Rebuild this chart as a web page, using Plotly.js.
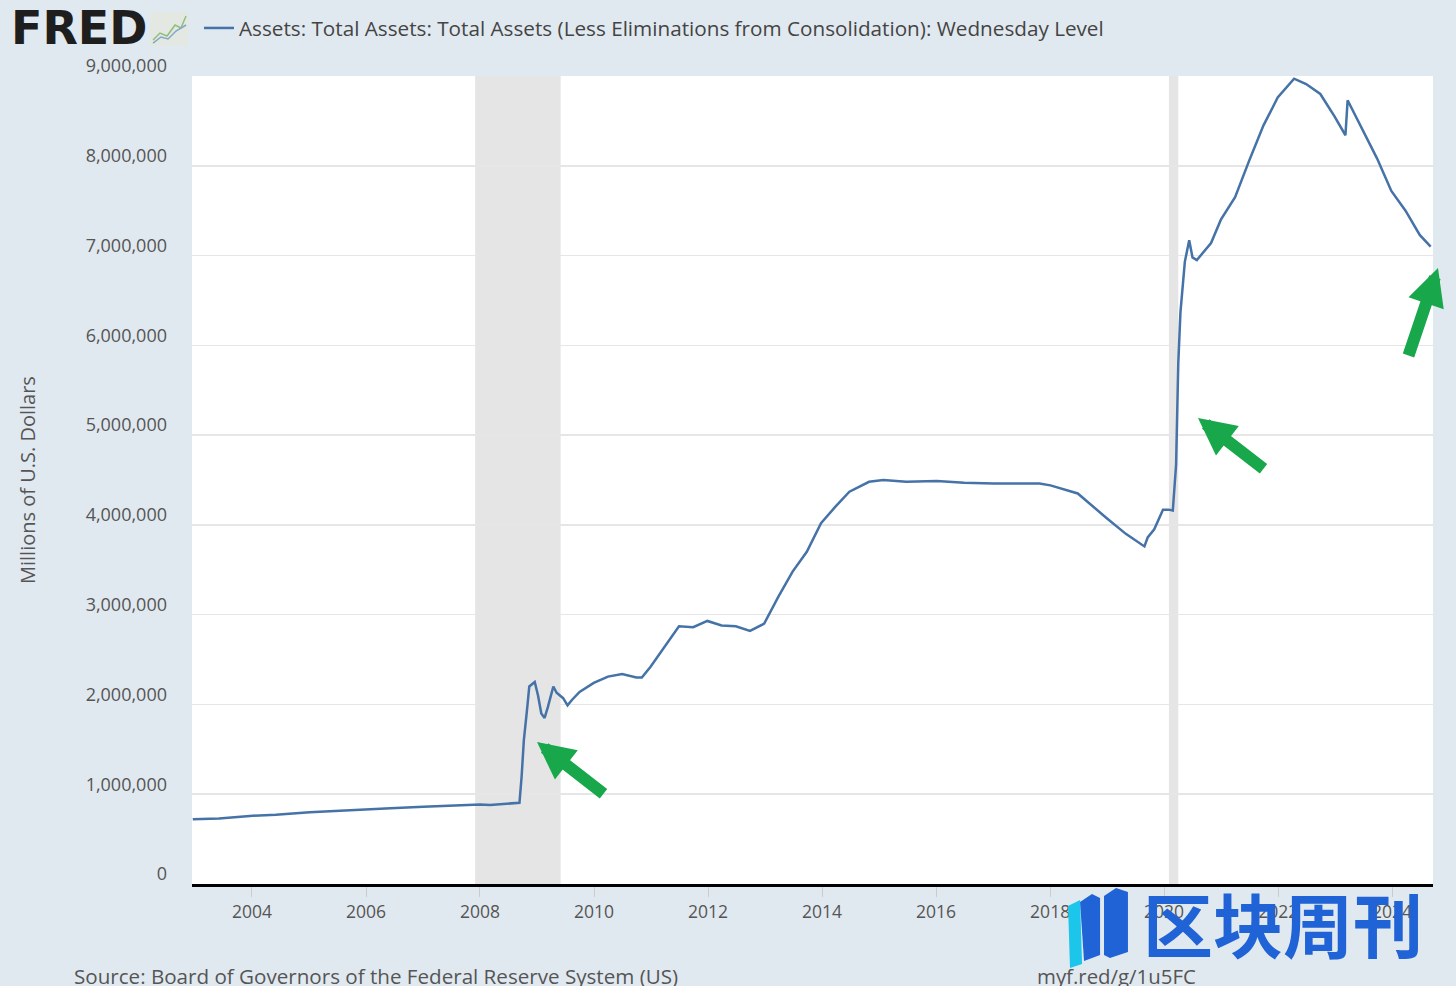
<!DOCTYPE html>
<html>
<head>
<meta charset="utf-8">
<script src="https://cdn.plot.ly/plotly-3.0.1.min.js"></script>
<style>
  html, body { margin: 0; padding: 0; background: #e1e9f0; }
  #chart { width: 1456px; height: 986px; }
</style>
</head>
<body>
<div id="chart"></div>
<script>
// Weekly level of total assets (millions of U.S. dollars)
const dates = [
  '2002-12-18','2003-06-04','2004-01-07','2004-06-02','2005-01-05','2005-06-01','2006-01-04','2006-06-07',
  '2007-01-03','2007-06-06','2008-01-02','2008-03-05','2008-06-04','2008-09-10','2008-09-24','2008-10-08',
  '2008-10-29','2008-11-12','2008-12-17','2009-01-07','2009-01-28','2009-02-18','2009-03-11','2009-04-15',
  '2009-05-06','2009-06-17','2009-07-15','2009-08-12','2009-09-30','2009-12-30','2010-03-31','2010-06-30',
  '2010-09-29','2010-11-03','2010-12-29','2011-03-30','2011-06-29','2011-09-28','2011-12-28','2012-03-28',
  '2012-06-27','2012-09-26','2012-12-26','2013-03-27','2013-06-26','2013-09-25','2013-12-25','2014-03-26',
  '2014-06-25','2014-10-29','2015-01-28','2015-06-24','2016-01-06','2016-06-29','2017-01-04','2017-06-28',
  '2017-10-25','2018-01-03','2018-06-27','2018-12-26','2019-05-01','2019-08-28','2019-09-18','2019-10-30',
  '2019-12-25','2020-01-29','2020-02-26','2020-03-18','2020-03-25','2020-04-01','2020-04-15','2020-05-13',
  '2020-06-10','2020-07-01','2020-07-29','2020-10-28','2020-12-30','2021-03-31','2021-06-30','2021-09-29',
  '2021-12-29','2022-03-30','2022-04-13','2022-06-29','2022-09-28','2022-12-28','2023-03-08','2023-03-22',
  '2023-06-28','2023-09-27','2023-12-27','2024-03-27','2024-06-26','2024-09-04'
];
const totalAssets = [
  720000, 730000, 760000, 772000, 800000, 815000, 830000, 845000,
  860000, 870000, 885000, 880000, 895000, 905000, 1200000, 1600000,
  1950000, 2200000, 2250000, 2100000, 1900000, 1850000, 1970000, 2200000,
  2130000, 2070000, 1990000, 2050000, 2140000, 2240000, 2310000, 2340000,
  2300000, 2300000, 2420000, 2650000, 2870000, 2860000, 2930000, 2880000,
  2870000, 2820000, 2900000, 3200000, 3480000, 3700000, 4020000, 4200000,
  4370000, 4480000, 4500000, 4480000, 4490000, 4470000, 4460000, 4460000,
  4460000, 4440000, 4350000, 4080000, 3900000, 3760000, 3860000, 3950000,
  4170000, 4170000, 4160000, 4670000, 5300000, 5800000, 6370000, 6930000,
  7170000, 6980000, 6950000, 7140000, 7400000, 7650000, 8060000, 8450000,
  8760000, 8940000, 8970000, 8910000, 8800000, 8550000, 8340000, 8730000,
  8390000, 8080000, 7720000, 7500000, 7230000, 7100000
];

// NBER recessions shaded on the chart
const recessionStarts = ['2007-12-01', '2020-02-01'];
const recessionEnds = ['2009-06-01', '2020-04-01'];

const yTicks = [0, 1000000, 2000000, 3000000, 4000000, 5000000, 6000000, 7000000, 8000000, 9000000];

const seriesName = 'Assets: Total Assets: Total Assets (Less Eliminations from Consolidation): Wednesday Level';

// plot area in page pixels, used to place the decorations
const PL = 192, PR = 1433, PT = 76, PB = 884;
const px = x => (x - PL) / (PR - PL);
const py = y => (PB - y) / (PB - PT);
const path = pts => pts.map((p, i) => (i ? 'L' : 'M') + px(p[0]).toFixed(4) + ',' + py(p[1]).toFixed(4)).join(' ') + ' Z';
const line = pts => pts.map((p, i) => (i ? 'L' : 'M') + px(p[0]).toFixed(4) + ',' + py(p[1]).toFixed(4)).join(' ');

const font = '"Open Sans", "DejaVu Sans", sans-serif';

// recession bands
const shapes = recessionStarts.map((s, i) => ({
  type: 'rect', xref: 'x', yref: 'paper', x0: s, x1: recessionEnds[i], y0: 0, y1: 1,
  fillcolor: '#e5e5e5', line: { width: 0 }, layer: 'below'
}));

// little FRED chart icon
shapes.push({ type: 'rect', xref: 'paper', yref: 'paper', x0: px(150), x1: px(188), y0: py(46), y1: py(12),
  fillcolor: '#e3e9e2', line: { width: 0 } });
shapes.push({ type: 'path', xref: 'paper', yref: 'paper', path: line([[153, 40], [160, 33], [167, 36], [175, 25], [181, 28], [186, 16]]),
  line: { color: '#8fbf7a', width: 1.5 } });
shapes.push({ type: 'path', xref: 'paper', yref: 'paper', path: line([[153, 43], [161, 37], [168, 39], [176, 31], [186, 25]]),
  line: { color: '#86a6c6', width: 1.5 } });

// watermark logo bars
shapes.push({ type: 'path', xref: 'paper', yref: 'paper', path: path([[1068, 906], [1080, 900], [1082, 964], [1070, 968]]),
  fillcolor: '#1cc5ea', line: { width: 0 } });
shapes.push({ type: 'path', xref: 'paper', yref: 'paper', path: path([[1080, 902], [1092, 894], [1100, 898], [1100, 955], [1084, 961]]),
  fillcolor: '#1f63d6', line: { width: 0 } });
shapes.push({ type: 'path', xref: 'paper', yref: 'paper', path: path([[1104, 896], [1116, 888], [1128, 892], [1128, 952], [1110, 958], [1104, 955]]),
  fillcolor: '#1f63d6', line: { width: 0 } });

const arrowGreen = '#18a84b';
const annotations = [
  { xref: 'paper', yref: 'paper', x: px(9), y: py(28), xanchor: 'left', yanchor: 'middle', showarrow: false,
    text: '<b>FRED</b>', font: { family: '"DejaVu Sans", sans-serif', size: 46, color: '#1e1e1e' } },
  { xref: 'paper', yref: 'paper', x: px(27), y: 0.5, xanchor: 'center', yanchor: 'middle', showarrow: false,
    textangle: -90, text: 'Millions of U.S. Dollars', font: { family: font, size: 20, color: '#555' } },
  { xref: 'paper', yref: 'paper', x: px(72), y: py(976), xanchor: 'left', yanchor: 'middle', showarrow: false,
    text: 'Source: Board of Governors of the Federal Reserve System (US)', font: { family: font, size: 20.6, color: '#555' } },
  { xref: 'paper', yref: 'paper', x: px(1035), y: py(976), xanchor: 'left', yanchor: 'middle', showarrow: false,
    text: 'myf.red/g/1u5FC', font: { family: font, size: 20.4, color: '#555' } },
  // green arrows
  { xref: 'paper', yref: 'paper', x: px(537), y: py(742), ax: 68, ay: 53, text: '', showarrow: true,
    arrowhead: 2, arrowsize: 0.62, arrowwidth: 12, arrowcolor: arrowGreen },
  { xref: 'paper', yref: 'paper', x: px(1198), y: py(418), ax: 67, ay: 52, text: '', showarrow: true,
    arrowhead: 2, arrowsize: 0.62, arrowwidth: 12, arrowcolor: arrowGreen },
  { xref: 'paper', yref: 'paper', x: px(1438), y: py(268), ax: -30, ay: 89, text: '', showarrow: true,
    arrowhead: 2, arrowsize: 0.62, arrowwidth: 12, arrowcolor: arrowGreen },
  // watermark text
  { xref: 'paper', yref: 'paper', x: px(1283), y: py(922), xanchor: 'center', yanchor: 'middle', showarrow: false,
    text: '<b>区块周刊</b>', font: { family: '"Noto Sans CJK SC", sans-serif', size: 70, color: '#1f63d6' } }
];

Plotly.newPlot('chart', [{
  x: dates,
  y: totalAssets,
  name: seriesName,
  type: 'scatter',
  mode: 'lines',
  line: { color: '#4572a7', width: 2.5 }
}], {
  width: 1456,
  height: 986,
  paper_bgcolor: '#e1e9f0',
  plot_bgcolor: '#ffffff',
  margin: { l: PL, r: 1456 - PR, t: PT, b: 986 - PB },
  showlegend: true,
  legend: {
    xref: 'container', yref: 'container', x: 199 / 1456, y: 1 - 8 / 986,
    xanchor: 'left', yanchor: 'top', orientation: 'h', bgcolor: 'rgba(0,0,0,0)',
    font: { family: font, size: 20.7, color: '#444' }
  },
  xaxis: {
    type: 'date',
    range: ['2002-12-13', '2024-09-19'],
    tick0: '2004-01-01', dtick: 'M24', tickformat: '%Y',
    showgrid: false, zeroline: false,
    showline: true, linecolor: '#000', linewidth: 3,
    ticks: 'outside', ticklen: 10, tickcolor: '#cccccc', tickwidth: 1,
    tickfont: { family: font, size: 17.5, color: '#555' },
    fixedrange: true
  },
  yaxis: {
    range: [0, 9000000],
    tickvals: yTicks, tickformat: ',d',
    showgrid: true, gridcolor: '#e6e6e6', gridwidth: 1.5,
    zeroline: false, showline: false, ticks: '',
    ticklabelshift: -10, ticklabelstandoff: 24,
    tickfont: { family: font, size: 18, color: '#555' },
    fixedrange: true
  },
  shapes: shapes,
  annotations: annotations
}, { displayModeBar: false, staticPlot: true });
</script>
</body>
</html>
